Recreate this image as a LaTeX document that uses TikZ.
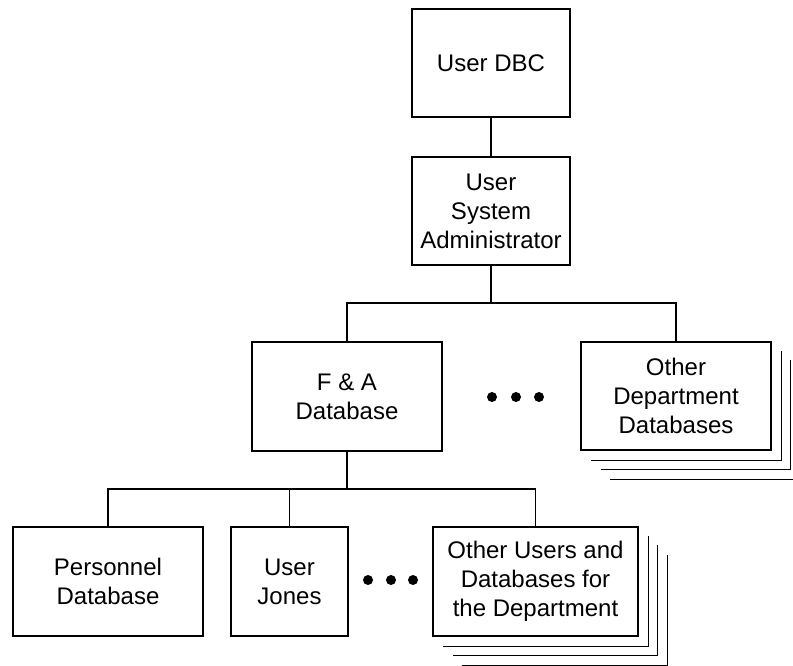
\documentclass[tikz,border=0pt]{standalone}
\usepackage{fontspec}
\setmainfont{Liberation Sans}

\tikzset{
  box/.style={draw, line width=1.2pt, fill=white, align=center, inner sep=0pt,
    font=\fontsize{24}{29}\selectfont},
  dot/.style={circle, fill, inner sep=0pt, minimum size=10pt}
}

\begin{document}
\begin{tikzpicture}[x=1pt,y=-1pt,line width=1.2pt]
	\useasboundingbox (0,0) rectangle (793,665);
	
	\node [box,minimum width=158pt,minimum height=108pt] (dbc) at (491,63) {User DBC};
	\node [box,minimum width=158pt,minimum height=108pt] (sysadm) at (491,211) {User\\System\\Administrator};
	
	\node [box,minimum width=190pt,minimum height=109pt] (fa) at (347,396.5) {F \& A\\Database};
	\node [box,minimum width=190pt,minimum height=108pt] (otherdept) at (676,396) {Other\\Department\\Databases};
	
	\node [box,minimum width=190pt,minimum height=109pt] (personnel) at (108,581.5) {Personnel\\Database};
	\node [box,minimum width=117pt,minimum height=109pt] (jones) at (289.5,581.5) {User\\Jones};
	\node [box,minimum width=205pt,minimum height=109pt] (otherusers) at (535.5,581.5) {Other Users and\\Databases for\\the Department};
	
	% stacked copies behind
	\foreach \n in {otherdept,otherusers}
		\foreach \d in {9.5,19,28.5}
			\draw ([shift={(\d+1.5,\d)}]\n.south west) -- ([shift={(\d,\d)}]\n.south east) -- ([shift={(\d,\d)}]\n.north east);
	
	\foreach \x [count=\i] in {492,516,539} \node [dot] (dta\i) at (\x,397) {};
	\foreach \x [count=\i] in {368,391,413} \node [dot] (dtb\i) at (\x,580) {};
	
	\coordinate (bus1) at (491,303);
	\coordinate (bus2) at (347,489);
	
	\draw (dbc) -- (sysadm);
	\draw (sysadm) -- (bus1);
	\draw (fa.north) -- (fa.north |- bus1) -| (otherdept.north);
	
	\draw (fa) -- (bus2);
	\draw (personnel.north) -- (personnel.north |- bus2) -| (otherusers.north);
	\draw (jones.north) -- (jones.north |- bus2);
	
\end{tikzpicture}
\end{document}
